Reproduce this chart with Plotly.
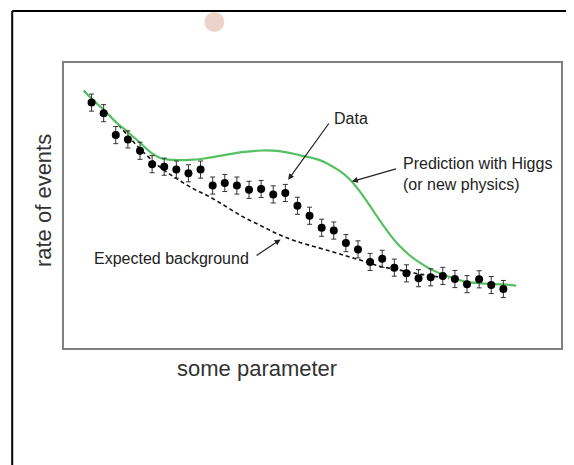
import plotly.graph_objects as go

# ---- data (arbitrary units) ----
bin_index = list(range(1, 36))
data_rate = [8.61, 8.24, 7.47, 7.32, 6.92, 6.45, 6.36, 6.26, 6.13, 6.26,
             5.70, 5.79, 5.70, 5.55, 5.58, 5.39, 5.44, 4.99, 4.64, 4.22,
             4.12, 3.68, 3.46, 3.02, 3.13, 2.82, 2.62, 2.45, 2.48, 2.53,
             2.42, 2.24, 2.41, 2.21, 2.07]
data_err = [0.30] * 35

higgs_x = [0.37, 1.03, 2.02, 3.00, 3.99, 4.98, 5.96, 6.79, 7.85, 9.09,
           10.32, 11.97, 13.61, 15.09, 16.65, 18.13, 19.78, 20.60, 21.42,
           22.25, 23.07, 23.89, 24.71, 25.53, 26.36, 27.18, 28.00, 29.07,
           30.47, 31.84, 33.49, 34.99, 36.06]
higgs_y = [9.03, 8.74, 8.35, 7.93, 7.58, 7.21, 6.84, 6.65, 6.60, 6.60,
           6.65, 6.77, 6.88, 6.93, 6.90, 6.77, 6.60, 6.44, 6.23,
           5.95, 5.54, 5.05, 4.53, 4.04, 3.61, 3.28, 3.02, 2.75,
           2.51, 2.33, 2.26, 2.23, 2.19]

bkg_x = [0.37, 1.03, 2.02, 3.00, 3.82, 4.70, 6.62, 7.99, 9.36, 10.73,
         12.11, 13.47, 14.84, 16.22, 17.58, 18.96, 20.87, 22.25, 23.62,
         24.98, 26.36, 27.73, 29.07, 30.47]
bkg_y = [9.03, 8.74, 8.35, 7.93, 7.54, 7.12, 6.36, 5.95, 5.60, 5.31,
         4.96, 4.61, 4.32, 4.03, 3.79, 3.61, 3.38, 3.20, 3.03,
         2.85, 2.74, 2.62, 2.53, 2.44]

fig = go.Figure()

fig.add_trace(go.Scatter(
    x=bkg_x, y=bkg_y, mode="lines", line_shape="spline",
    line=dict(color="#111111", width=1.6, dash="4px,3px"),
    hoverinfo="skip", showlegend=False))

fig.add_trace(go.Scatter(
    x=higgs_x, y=higgs_y, mode="lines", line_shape="spline",
    line=dict(color="#55c060", width=2.2),
    hoverinfo="skip", showlegend=False))

fig.add_trace(go.Scatter(
    x=bin_index, y=data_rate, mode="markers",
    marker=dict(color="#000000", size=8),
    error_y=dict(type="data", array=data_err, color="#333333",
                 thickness=1, width=2.5),
    showlegend=False))

FONT = "Liberation Sans, Arial, sans-serif"

# the page adds an 8px body margin; screen pixel -> plot-area paper coords
PL, PT, PW, PH = 64, 63, 499, 285


def px_x(p):
    return (p - PL) / PW


def px_y(p):
    return (PT + PH - p) / PH


annotations = [
    # arrows
    dict(x=17.23, y=5.90, ax=20.68, ay=7.93, axref="x", ayref="y",
         xref="x", yref="y", text="", showarrow=True, arrowhead=2,
         arrowsize=1, arrowwidth=1.2, arrowcolor="#222222"),
    dict(x=22.49, y=5.84, ax=26.26, ay=6.30, axref="x", ayref="y",
         xref="x", yref="y", text="", showarrow=True, arrowhead=2,
         arrowsize=1, arrowwidth=1.2, arrowcolor="#222222"),
    dict(x=16.61, y=3.81, ax=14.50, ay=3.21, axref="x", ayref="y",
         xref="x", yref="y", text="", showarrow=True, arrowhead=2,
         arrowsize=1, arrowwidth=1.2, arrowcolor="#222222"),
    # labels
    dict(x=20.84, y=8.07, xref="x", yref="y", text="Data", showarrow=False,
         xanchor="left", yanchor="middle",
         font=dict(family=FONT, size=16, color="#222222")),
    dict(x=26.56, y=6.09, xref="x", yref="y",
         text="Prediction with Higgs<br>(or new physics)", showarrow=False,
         xanchor="left", yanchor="middle", align="left",
         font=dict(family=FONT, size=16, color="#222222")),
    dict(x=1.0, y=3.15, xref="x", yref="y", text="Expected background",
         showarrow=False, xanchor="left", yanchor="middle",
         font=dict(family=FONT, size=16, color="#222222")),
    # axis titles
    dict(x=px_x(43), y=px_y(201), xref="paper", yref="paper",
         text="rate of events", showarrow=False, textangle=-90,
         xanchor="center", yanchor="middle",
         font=dict(family=FONT, size=22, color="#333333")),
    dict(x=px_x(258), y=px_y(368), xref="paper", yref="paper",
         text="some parameter", showarrow=False,
         xanchor="center", yanchor="middle",
         font=dict(family=FONT, size=22, color="#333333")),
]

shapes = [
    # faint watermark dot
    dict(type="circle", xref="paper", yref="paper",
         x0=px_x(205), x1=px_x(225), y0=px_y(32), y1=px_y(12),
         fillcolor="#ecd3cc", line=dict(width=0), layer="below"),
    # page frame
    dict(type="line", xref="paper", yref="paper",
         x0=px_x(12), x1=px_x(580), y0=px_y(11), y1=px_y(11),
         line=dict(color="#000000", width=2)),
    dict(type="line", xref="paper", yref="paper",
         x0=px_x(12), x1=px_x(12), y0=px_y(11), y1=px_y(470),
         line=dict(color="#000000", width=2)),
]

fig.update_layout(
    width=566, height=457,
    margin=dict(l=56, r=11, t=55, b=117),
    paper_bgcolor="#ffffff", plot_bgcolor="#ffffff",
    annotations=annotations, shapes=shapes,
    showlegend=False,
)
fig.update_xaxes(range=[-1.275, 39.76], showgrid=False, zeroline=False,
                 showticklabels=False, ticks="", showline=True, mirror=True,
                 linecolor="#808080", linewidth=1.5)
fig.update_yaxes(range=[0, 10], showgrid=False, zeroline=False,
                 showticklabels=False, ticks="", showline=True, mirror=True,
                 linecolor="#808080", linewidth=1.5)

fig.write_html("out.html")
